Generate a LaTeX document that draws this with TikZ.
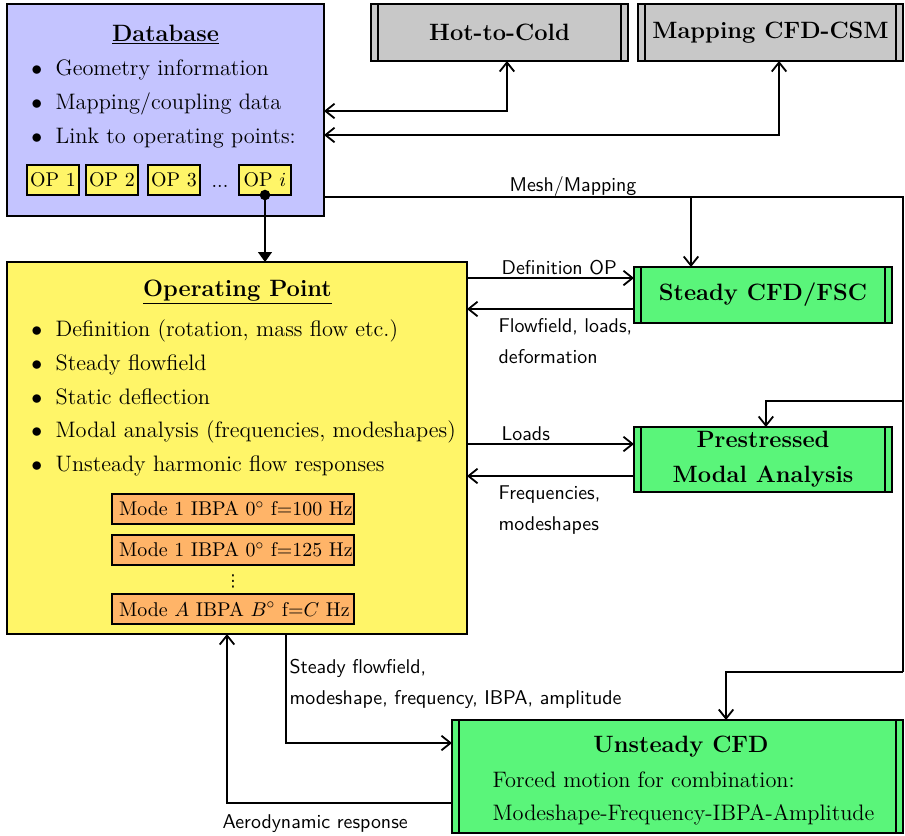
\documentclass[tikz,border=0pt]{standalone}
\usepackage{fontspec}
\newfontfamily\dejavu{DejaVu Sans}
\usetikzlibrary{arrows.meta}
\definecolor{dbblue}{RGB}{196,196,255}
\definecolor{opyellow}{RGB}{255,245,104}
\definecolor{modeorange}{RGB}{255,180,104}
\definecolor{procgray}{RGB}{200,200,200}
\definecolor{procgreen}{RGB}{90,245,122}
\newcommand{\mainfs}{\fontsize{12.3}{14}\selectfont}
\newcommand{\boxfs}{\fontsize{10.95}{13}\selectfont}
\newcommand{\titlefs}{\fontsize{13}{19.25}\selectfont\bfseries}
\newcommand{\labelfs}{\sffamily\fontsize{10.95}{12}\selectfont}
\newcommand{\bul}{\llap{$\bullet$\hspace{7.4pt}}}
\begin{document}
\begin{tikzpicture}[x=0.55pt,y=-0.55pt,line width=0.7pt,
  >={Straight Barb[length=5pt,width=8pt,line width=1pt]},
  box/.style={draw=black,line width=0.8pt,inner sep=0pt,outer sep=0pt},
  proc/.style={box,align=center,font=\titlefs},
  txt/.style={inner sep=0pt,anchor=base west,font=\mainfs},
  ttl/.style={inner sep=0pt,anchor=base,font=\titlefs},
  lbl/.style={inner sep=0pt,anchor=base west,font=\labelfs},
  opbox/.style={box,fill=opyellow,minimum width=28.6pt,minimum height=16.5pt,font=\boxfs},
  modebox/.style={box,fill=modeorange,inner xsep=3.85pt,minimum width=133.1pt,minimum height=16.5pt,font=\boxfs},
  dbl/.style={line width=0.8pt}
]
\useasboundingbox (0,0) rectangle (905,835);

% ---------- boxes ----------
\node[box,fill=dbblue,minimum width=174.35pt,minimum height=116.6pt] (db) at (165.5,110) {};
\node[proc,fill=procgray,minimum width=141.35pt,minimum height=31.35pt] (hot) at (499.5,32.5) {Hot-to-Cold};
\node[proc,fill=procgray,minimum width=145.75pt,minimum height=31.35pt] (map) at (770.5,32.5) {Mapping CFD-CSM};
\node[box,fill=opyellow,minimum width=253pt,minimum height=204.6pt] (op) at (237,448) {};
\node[proc,fill=procgreen,minimum width=141.9pt,minimum height=30.8pt] (steady) at (763,295) {Steady CFD/FSC};
\node[proc,fill=procgreen,minimum width=141.9pt,minimum height=35.75pt] (pre) at (763,459.5) {\raisebox{-2pt}{Prestressed}\\\raisebox{-2pt}{Modal Analysis}};
\node[box,fill=procgreen,minimum width=248.05pt,minimum height=62.15pt] (uns) at (677.5,776.5) {};

\foreach \n in {hot,map,steady,pre,uns}{
  \draw[dbl] ([xshift=3.85pt]\n.north west) -- ([xshift=3.85pt]\n.south west);
  \draw[dbl] ([xshift=-3.85pt]\n.north east) -- ([xshift=-3.85pt]\n.south east);
}

% ---------- database contents ----------
\node[ttl] (dbtitle) at (165.5,41) {\underline{Database}};
\node[txt] (db1) at (55,75) {\bul Geometry information};
\node[txt] (db2) at (55,109) {\bul Mapping/coupling data};
\node[txt] (db3) at (55,143) {\bul Link to operating points:};
\node[opbox] (op1) at (53,180) {OP 1};
\node[opbox] (op2) at (112,180) {OP 2};
\node[opbox] (op3) at (174,180) {OP 3};
\node[inner sep=0pt,anchor=base,font=\boxfs] (opdots) at (220,187) {...};
\node[opbox] (opi) at (265,180) {OP $i$};

% ---------- operating point contents ----------
\node[ttl] (optitle) at (237.5,296) {\underline{Operating Point}};
\node[txt] (o1) at (55,336) {\bul Definition (rotation, mass flow etc.)};
\node[txt] (o2) at (55,370) {\bul Steady flowfield};
\node[txt] (o3) at (55,404) {\bul Static deflection};
\node[txt] (o4) at (55,437) {\bul Modal analysis (frequencies, modeshapes)};
\node[txt] (o5) at (55,471) {\bul Unsteady harmonic flow responses};
\node[modebox] (m1) at (233,509) {\makebox[125.4pt][l]{Mode 1 IBPA 0$^\circ$ f=100 Hz}};
\node[modebox] (m2) at (233,550) {\makebox[125.4pt][l]{Mode 1 IBPA 0$^\circ$ f=125 Hz}};
\node[inner sep=0pt,anchor=center,font=\dejavu\fontsize{9}{10}\selectfont] (mdots) at (233,581) {⋮};
\node[modebox] (m3) at (233,609) {\makebox[125.4pt][l]{Mode $A$ IBPA $B^\circ$ f=$C$ Hz}};

% ---------- unsteady contents ----------
\node[ttl] (unstitle) at (681,752) {Unsteady CFD};
\node[txt] (u1) at (492,787) {Forced motion for combination:};
\node[txt] (u2) at (492,820) {Modeshape-Frequency-IBPA-Amplitude};

% ---------- connector labels ----------
\node[lbl] (lmesh) at (509,191) {Mesh/Mapping};
\node[lbl] (ldef) at (501,274) {Definition OP};
\node[lbl] (lflow1) at (498,332) {Flowfield, loads,};
\node[lbl] (lflow2) at (498,363) {deformation};
\node[lbl] (lloads) at (501,440) {Loads};
\node[lbl] (lfreq1) at (498,499) {Frequencies,};
\node[lbl] (lfreq2) at (498,530) {modeshapes};
\node[lbl] (lsteady1) at (289,673) {Steady flowfield,};
\node[lbl] (lsteady2) at (289,704) {modeshape, frequency, IBPA, amplitude};
\node[lbl] (laero) at (222,828) {Aerodynamic response};

% ---------- helper coordinates ----------
\coordinate (rtop) at (903,197);
\coordinate (rmid) at (903,401);
\coordinate (rbot) at (903,672);

% ---------- connectors ----------
\draw[<->] ([xshift=4.1pt]hot.south) |- (db.east |- 0,111);
\draw[<->] ([xshift=4.7pt]map.south) |- (db.east |- 0,135);
\draw (db.east |- rtop) -- (rtop) -- (rbot);
\draw[->] ([xshift=-39.6pt]steady.north |- rtop) -- ([xshift=-39.6pt]steady.north);
\draw[->] (rmid) -| ([xshift=1.6pt]pre.north);
\draw[->] (rbot) -| ([xshift=26.7pt]uns.north);

\fill (opi.south) circle (2.9pt);
\draw[-{Triangle[length=5.5pt,width=7.7pt]}] (opi.south) -- (opi.south |- op.north);

\draw[->] (op.east |- 0,278) -- (steady.west |- 0,278);
\draw[->] (steady.west |- 0,309) -- (op.east |- 0,309);
\draw[->] (op.east |- 0,444) -- (pre.west |- 0,444);
\draw[->] (pre.west |- 0,476) -- (op.east |- 0,476);

\draw[->] (op.south -| 286,0) |- (uns.west |- 0,743);
\draw[->] (uns.west |- 0,803) -| (op.south -| 227,0);
\end{tikzpicture}
\end{document}
